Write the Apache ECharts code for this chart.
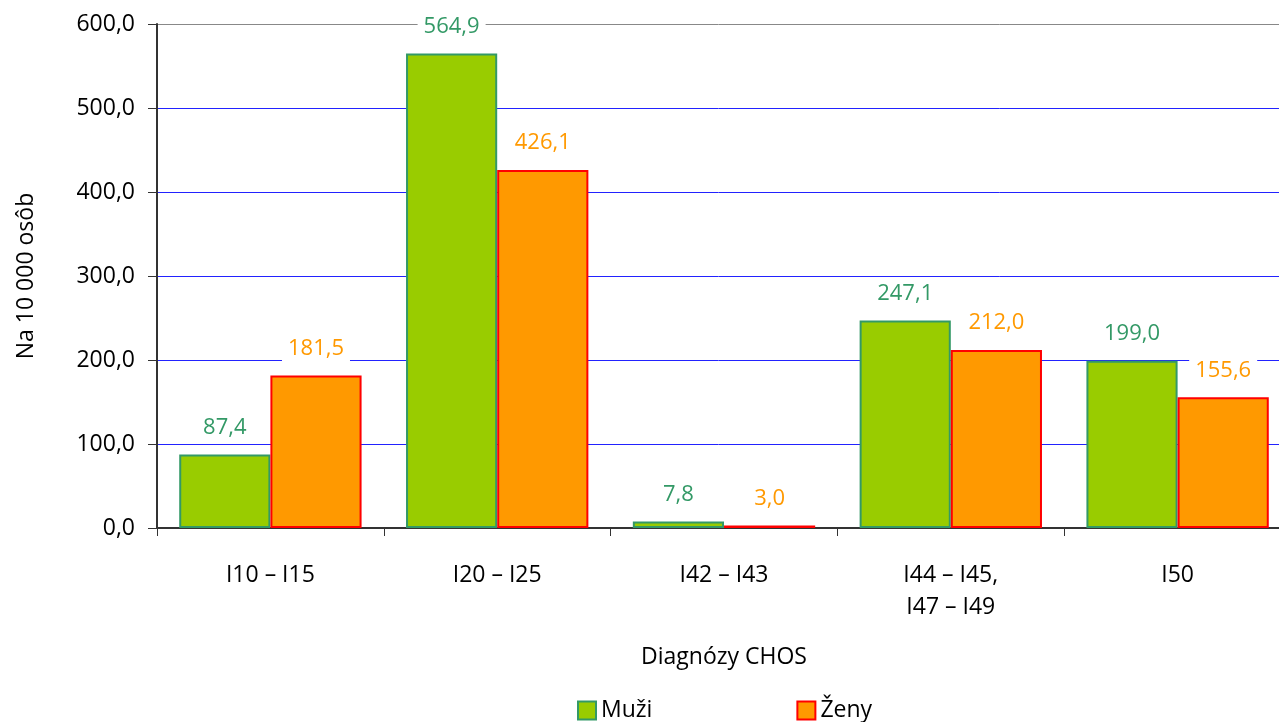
<!DOCTYPE html>
<html><head><meta charset="utf-8">
<script src="https://cdn.jsdelivr.net/npm/echarts@6/dist/echarts.min.js"></script>
<style>html,body{margin:0;padding:0;background:#fff}#c{width:1279px;height:722px}</style>
</head><body><div id="c"></div>
<script>
const categories = ['I10 – I15', 'I20 – I25', 'I42 – I43', 'I44 – I45,\nI47 – I49', 'I50'];
const muzi = [87.4, 564.9, 7.8, 247.1, 199.0];
const zeny = [181.5, 426.1, 3.0, 212.0, 155.6];
const seriesNames = ['Muži', 'Ženy'];
const yTicks = { min: 0, max: 600, interval: 100 };

const fmt = v => Number(v).toFixed(1).replace('.', ',');
const FONT = 'Open Sans';
const chart = echarts.init(document.getElementById('c'));
const lbl = (color) => ({
  show: true, position: 'top', distance: 14, color: color, fontFamily: FONT, fontSize: 22,
  backgroundColor: '#fff', padding: [2, 6], formatter: p => fmt(p.value)
});
chart.setOption({
  animation: false,
  textStyle: { fontFamily: FONT },
  grid: { left: 157, top: 24, bottom: 194, width: 1134, outerBoundsMode: 'none', containLabel: false },
  legend: {
    bottom: -5, left: 572, itemWidth: 18, itemHeight: 18, itemGap: 144, icon: 'rect',
    textStyle: { fontSize: 23, color: '#000', fontFamily: FONT },
    data: seriesNames
  },
  xAxis: {
    type: 'category', data: categories,
    name: 'Diagnózy CHOS', nameLocation: 'middle', nameGap: 118,
    nameTextStyle: { fontSize: 23, color: '#000', fontFamily: FONT },
    axisLine: { lineStyle: { color: '#333', width: 2 } },
    axisTick: { show: true, length: 8, lineStyle: { color: '#333' } },
    axisLabel: { fontSize: 23, color: '#000', margin: 31, lineHeight: 32, fontFamily: FONT }
  },
  yAxis: {
    type: 'value', min: yTicks.min, max: yTicks.max, interval: yTicks.interval,
    name: 'Na 10 000 osôb', nameLocation: 'middle', nameGap: 119, nameRotate: 90,
    nameTextStyle: { fontSize: 23, color: '#000', fontFamily: FONT },
    axisLine: { show: true, lineStyle: { color: '#333', width: 2 } },
    axisTick: { show: true, length: 9, lineStyle: { color: '#333' } },
    axisLabel: { fontSize: 23, color: '#000', margin: 22, fontFamily: FONT, formatter: v => fmt(v) },
    splitLine: { show: true, lineStyle: { color: ['#2222ff', '#2222ff', '#2222ff', '#2222ff', '#2222ff', '#2222ff', '#888'], width: 1 } }
  },
  series: [
    {
      name: seriesNames[0], type: 'bar', data: muzi, barGap: '0%', barCategoryGap: '19.6%',
      itemStyle: { color: '#99cc00', borderColor: '#339966', borderWidth: 2 },
      label: lbl('#339966')
    },
    {
      name: seriesNames[1], type: 'bar', data: zeny, barGap: '0%', barCategoryGap: '19.6%',
      itemStyle: { color: '#ff9900', borderColor: '#ff0000', borderWidth: 2 },
      label: lbl('#ff9900')
    }
  ]
});
</script></body></html>
